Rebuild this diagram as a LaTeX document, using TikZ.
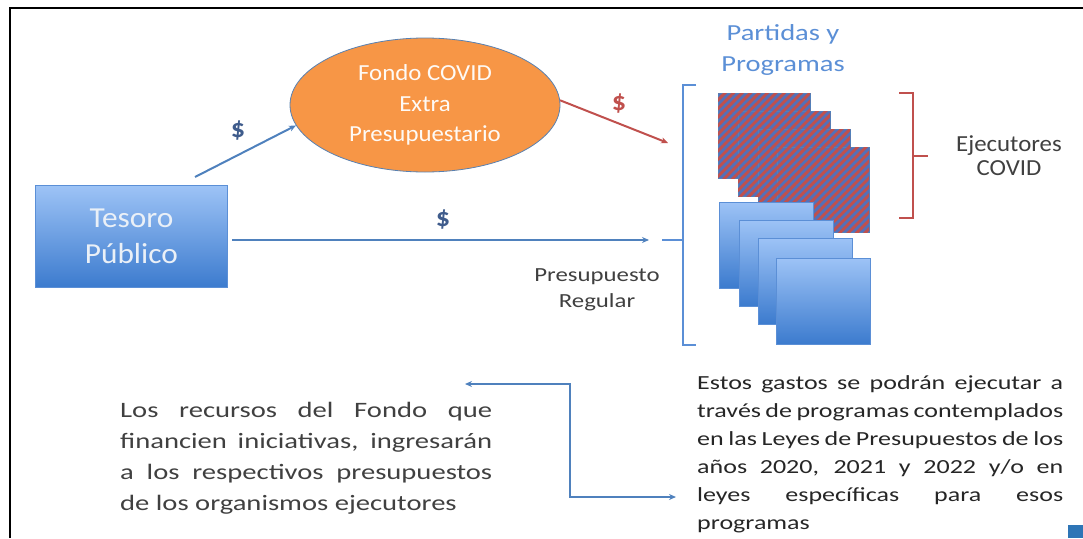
\documentclass[tikz,border=0pt]{standalone}
\usepackage{fontspec}
\setmainfont{Carlito}
\newfontfamily\fstA{Carlito}[FakeStretch=1.3]
\newfontfamily\fstB{Carlito}[FakeStretch=1.08]
\newfontfamily\fstC{Carlito}[FakeStretch=1.24]
\usetikzlibrary{shapes.geometric,arrows.meta,patterns.meta}
\definecolor{lineblue}{HTML}{4F81BD}
\definecolor{brblue}{HTML}{5B8FD6}
\definecolor{dollarblue}{HTML}{3F5C8C}
\definecolor{covred}{HTML}{C0504D}
\definecolor{fondoorange}{HTML}{F79646}
\definecolor{boxtop}{HTML}{9DC3F6}
\definecolor{boxbot}{HTML}{3C7BCE}
\definecolor{txtgray}{HTML}{404040}
\definecolor{hatchbg}{HTML}{5470B8}
\definecolor{cornerblue}{HTML}{2E75B6}
\tikzset{
  arr/.style={draw=lineblue, line width=2pt, -{Stealth[length=7pt,width=6pt]}},
  redarr/.style={draw=covred, line width=2pt, -{Stealth[length=7pt,width=6pt]}},
  dbl/.style={draw=lineblue, line width=2pt, {Stealth[length=7pt,width=6pt]}-{Stealth[length=7pt,width=6pt]}},
  gradbox/.style={draw=brblue, line width=0.8pt, top color=boxtop, bottom color=boxbot},
  hatchbox/.style={draw=lineblue, line width=0.8pt, fill=hatchbg,
     postaction={pattern={Lines[angle=45,distance=6pt,line width=2.9pt]}, pattern color=covred}},
  dollar/.style={text=dollarblue, font=\fstB\bfseries\fontsize{26}{28}\selectfont},
  lab/.style={text=txtgray, align=center},
}
\begin{document}
\begin{tikzpicture}[x=1pt,y=-1pt]
\useasboundingbox (0,0) rectangle (1083,538);
% frame
\draw[black, line width=2.2pt] (10,538) -- (10,8) -- (1083,8);
% Tesoro
\node[gradbox, minimum width=192pt, minimum height=102pt, anchor=north west, inner sep=0,
  text=white!88!lineblue, align=center, font=\fstB\fontsize{29}{36}\selectfont] (tes) at (35,185) {Tesoro\\Público};
% Fondo ellipse
\node[ellipse, draw=lineblue!80!gray, line width=0.8pt, fill=fondoorange, minimum width=270pt, minimum height=134pt,
  inner sep=0, text=white!95!fondoorange, align=center, font=\fstB\fontsize{23}{30.5}\selectfont] (fondo) at (425,105)
  {Fondo COVID\\Extra\\Presupuestario};
% Partidas
\node[text=brblue, align=center, font=\fstC\fontsize{23}{31}\selectfont] (part) at (783,50) {Partidas y\\Programas};
% hatched squares
\foreach \i/\x/\y in {1/718/93, 2/738/111, 3/758/129, 4/777/147}
  \path[hatchbox] (\x,\y) rectangle ++(92,85);
% blue squares
\foreach \i/\x/\y in {1/719/202, 2/739/220, 3/758/238, 4/776/258}
  \path[gradbox] (\x,\y) rectangle ++(94,86);
% blue bracket
\draw[brblue, line width=2.4pt] (696,85) -- (683,85) -- (683,345) -- (696,345);
\draw[brblue, line width=2.4pt] (662,240) -- (683,240);
% red bracket
\draw[covred, line width=2.4pt] (899,93) -- (913,93) -- (913,218) -- (899,218);
\draw[covred, line width=2.4pt] (913,156) -- (928,156);
\node[lab, font=\fstB\fontsize{23}{24}\selectfont] (ejec) at (1009,156) {Ejecutores\\COVID};
\node[lab, font=\fstC\fontsize{20}{26}\selectfont] (preg) at (597,290) {Presupuesto\\Regular};
% arrows
\coordinate (a1s) at (195,177);
\draw[arr] (a1s) -- (fondo.189);
\node[dollar] (d1) at (238,131) {\$};
\coordinate (a2e) at (668,143);
\draw[redarr] (fondo.2) -- (a2e);
\node[dollar, text=covred] (d2) at (619,104) {\$};
\coordinate (a3s) at (232,240);
\coordinate (a3e) at (649,240);
\draw[arr] (a3s) -- (a3e);
\node[dollar] (d3) at (443,220) {\$};
% double arrow
\coordinate (da) at (465,384);
\coordinate (dc1) at (570,384);
\coordinate (dc2) at (570,497);
\coordinate (db) at (676,497);
\draw[dbl] (da) -- (dc1) -- (dc2) -- (db);
% paragraphs
\node[anchor=north west, inner sep=0, align=left, text=txtgray, font=\fstA\fontsize{22}{31}\selectfont] (ptl) at (120,402)
  {\makebox[372pt][s]{Los recursos del Fondo que}\\
   \makebox[372pt][s]{financien iniciativas, ingresarán}\\
   \makebox[372pt][s]{a los respectivos presupuestos}\\
   de los organismos ejecutores};
\node[anchor=north west, inner sep=0, align=left, text=black!85, font=\fstA\fontsize{20}{28}\selectfont] (ptr) at (697,375)
  {\makebox[366pt][s]{Estos gastos se podrán ejecutar a}\\
   \makebox[366pt][s]{través de programas contemplados}\\
   \makebox[366pt][s]{en las Leyes de Presupuestos de los}\\
   \makebox[366pt][s]{años 2020, 2021 y 2022 y/o en}\\
   \makebox[366pt][s]{leyes específicas para esos}\\
   programas};
% small corner square
\fill[cornerblue] (1068,525) rectangle (1083,538);
\end{tikzpicture}
\end{document}
